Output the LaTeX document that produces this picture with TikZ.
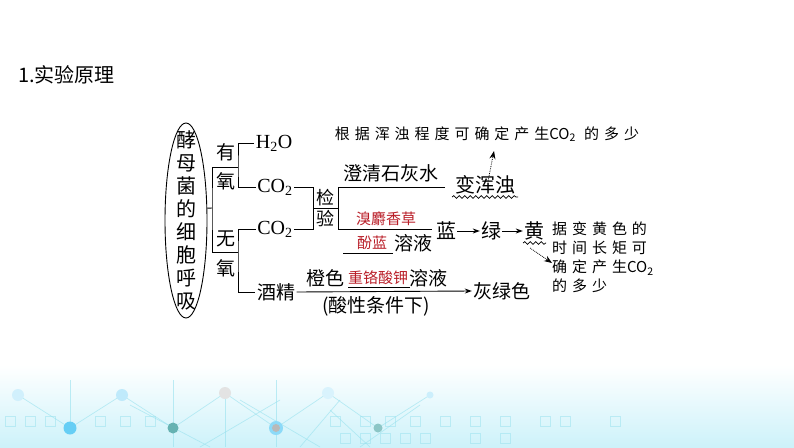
\documentclass[tikz,border=0pt]{standalone}
\usepackage{fontspec}
\setmainfont{Liberation Serif}
\newfontfamily\cjk{Noto Sans CJK SC}
\newfontfamily\hw{Noto Sans CJK SC}[LetterSpace=33]
\usetikzlibrary{arrows.meta,decorations.pathmorphing,shapes.geometric}
\definecolor{redtxt}{RGB}{185,30,40}
\definecolor{bgcyan}{RGB}{205,242,250}
\definecolor{netline}{RGB}{150,225,238}
\newcommand{\hwco}{{\cjk CO\textsubscript{2}}}
\begin{document}
\begin{tikzpicture}[x=1pt,y=-1pt,
  maintxt/.style={font=\cjk\fontsize{19}{19}\selectfont, inner sep=1.5pt},
  chem/.style={font=\fontsize{20}{20}\selectfont, inner sep=1.5pt},
  hand/.style={font=\hw\fontsize{15}{18.7}\selectfont, inner sep=0pt},
  redword/.style={font=\cjk\fontsize{15}{15}\selectfont, text=redtxt, inner sep=0pt},
  ln/.style={line width=0.9pt},
  arr/.style={line width=0.9pt,-{Stealth[length=7pt,width=5pt]}},
  dotarr/.style={line width=0.8pt, densely dotted, -{Stealth[length=8pt,width=6pt]}},
  wavy/.style={decorate, decoration={snake, amplitude=1.3pt, segment length=5.5pt}, line width=0.7pt}
]
\useasboundingbox (0,0) rectangle (794,447);
% background decoration
\shade[top color=white, bottom color=bgcyan] (0,365) rectangle (794,447);
\begin{scope}[netline, line width=0.7pt, opacity=0.6]
  \draw (18,395) -- (70,428) -- (122,395) -- (173,428) -- (225,393) -- (276,428) -- (328,393) -- (378,428) -- (430,395);
  \draw (70,380) -- (70,428) (173,380) -- (173,447) (276,380) -- (276,447) (225,393) -- (225,447);
  \draw (130,405) -- (210,447) (240,400) -- (320,447) (280,400) -- (200,447) (330,410) -- (370,447);
  \draw (300,447) -- (340,400) (360,447) -- (420,405);
  \foreach \x in {5,25,45,95,120,145,330,360,385,410,440,470,500,540,560,610} \draw[opacity=0.5] (\x,416) rectangle ++(10,10);
  \foreach \x in {340,360,380,400,420,470,500} \draw[opacity=0.5] (\x,433) rectangle ++(10,10);
\end{scope}
\fill[cyan!18] (18,395) circle (6);
\fill[cyan!25] (122,395) circle (6);
\fill[gray!22] (225,393) circle (6);
\fill[cyan!15] (328,393) circle (6);
\fill[cyan!20] (430,395) circle (3.5);
\fill[cyan!60] (70,428) circle (6.5);
\fill[teal!60] (173,428) circle (5.5);
\fill[cyan!45] (276,428) circle (7);
\fill[gray!55] (276,428) circle (4);
\fill[teal!45] (378,428) circle (4.5);

% title
\node[font=\cjk\fontsize{20}{20}\selectfont, anchor=west, inner sep=0pt] (title) at (18,75) {1.实验原理};

% ellipse
\node[draw, ellipse, line width=0.9pt, minimum width=42, minimum height=195, inner sep=0pt] (ell) at (186,220.5) {};
\node[font=\cjk\fontsize{20}{23}\selectfont, align=center, inner sep=0pt] (elltxt) at (186,220.5) {酵\\母\\菌\\的\\细\\胞\\呼\\吸};

% first bracket
\coordinate (j0) at (212,208);
\coordinate (u) at (238,167);
\coordinate (l) at (238,252);
\draw[ln] (ell.30) -- (j0);
\draw[ln] (u) -| (j0) |- (l);
\node[maintxt] (you) at (226,152) {有};
\node[maintxt] (yang1) at (226,181) {氧};
\node[maintxt] (wu) at (226,239) {无};
\node[maintxt] (yang2) at (226,268) {氧};

% products
\node[chem] (h2o) at (274,143) {H\textsubscript{2}O};
\node[chem] (co2a) at (275,187) {CO\textsubscript{2}};
\node[chem] (co2b) at (275,229) {CO\textsubscript{2}};
\node[maintxt] (jj) at (276,292) {酒精};
\draw[ln] (h2o.west) -| (u) |- (co2a.west);
\draw[ln] (co2b.west) -| (l) |- (jj.west);

% test box
\coordinate (k1) at (313,187);
\coordinate (k2) at (313,229);
\coordinate (k3) at (338,187);
\coordinate (k4) at (338,229);
\coordinate (k5) at (313,208);
\coordinate (k6) at (338,208);
\coordinate (t1) at (445,187);
\coordinate (t2) at (432,229);
\draw[ln] (co2a.east |- k1) -- (k1) -- (k2) -- (co2b.east |- k2);
\draw[ln] (k5) -- (k6);
\draw[ln] (t1) -- (k3) -- (k4) -- (t2);
\node[font=\cjk\fontsize{18}{18}\selectfont, inner sep=0pt] (jian) at (325.5,197.5) {检};
\node[font=\cjk\fontsize{18}{18}\selectfont, inner sep=0pt] (yan) at (325.5,218.5) {验};

% lime water branch
\node[maintxt] (lime) at (391,173) {澄清石灰水};
\node[font=\cjk\fontsize{20}{20}\selectfont, inner sep=0pt] (bhz) at (485,185) {变浑浊};
\coordinate (w1) at (452,197);
\coordinate (w2) at (518,197);
\draw[wavy] (w1) -- (w2);
\node[font=\hw\fontsize{15}{15}\selectfont, inner sep=0pt] (note1) at (487,134) {根据浑浊程度可确定产生\hwco\ 的多少};
\coordinate (d1s) at (488,181);
\coordinate (d1e) at (494,151);
\draw[dotarr] (d1s) -- (d1e);

% BTB branch
\node[redword] (xmxc) at (386,219) {溴麝香草};
\node[redword] (fl) at (372,243) {酚蓝};
\node[maintxt] (ry1) at (413,243) {溶液};
\coordinate (f1) at (343,253);
\coordinate (f2) at (393,253);
\draw[line width=0.7pt] (f1) -- (f2);
\node[font=\cjk\fontsize{20}{20}\selectfont, inner sep=1pt] (lan) at (446,231) {蓝};
\node[font=\cjk\fontsize{20}{20}\selectfont, inner sep=1pt] (lv) at (491,231) {绿};
\node[font=\cjk\fontsize{20}{20}\selectfont, inner sep=1pt] (huang) at (534,231) {黄};
\draw[arr] (lan.east) -- (lv.west);
\draw[arr] (lv.east) -- (huang.west);
\coordinate (w3) at (523,243);
\coordinate (w4) at (546,243);
\draw[wavy] (w3) -- (w4);
\coordinate (d2s) at (530,248);
\coordinate (d2e) at (552,263);
\draw[dotarr] (d2s) -- (d2e);
\node[hand, anchor=north west, align=left] (note2) at (552,222) {据变黄色的\\时间长矩可\\确定产生\hwco\\的多少};

% alcohol branch
\node[maintxt] (cs) at (325,278) {橙色};
\node[redword] (zgs) at (378,278) {重铬酸钾};
\node[maintxt] (ry2) at (428,278) {溶液};
\coordinate (g1) at (348,287.5);
\coordinate (g2) at (410,287.5);
\draw[line width=0.7pt] (g1) -- (g2);
\node[maintxt] (hlse) at (502,291) {灰绿色};
\draw[arr] (jj.east) -- (hlse.west);
\node[maintxt] (cond) at (376,306) {(酸性条件下)};
\end{tikzpicture}
\end{document}
